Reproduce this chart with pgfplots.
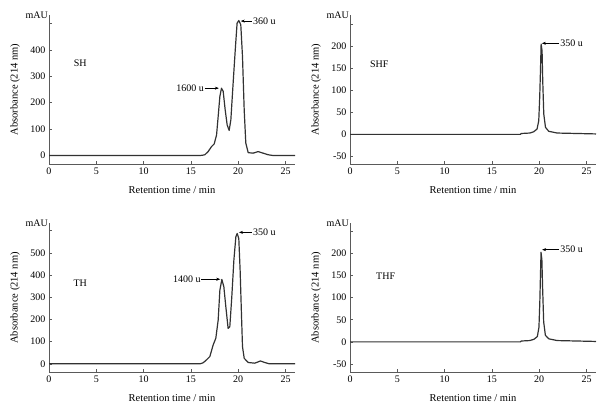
\documentclass[border=0pt]{standalone}
\usepackage{fontspec}
\setmainfont{Liberation Serif}
\usepackage{pgfplots}
\pgfplotsset{compat=1.18}
\usetikzlibrary{arrows.meta}

\definecolor{curve}{RGB}{50,50,50}
\definecolor{axisgray}{RGB}{90,90,90}

\tikzset{ann/.style={-{Stealth[length=4pt,width=3pt]}, draw=black, line width=0.5pt}}

\pgfplotsset{
  chrom/.style={
    scale only axis, width=246pt, height=149pt,
    axis lines=left,
    axis line style={-, draw=axisgray, line width=0.6pt},
    xmin=0, xmax=26, xtick={0,5,...,25},
    tick align=inside, major tick length=3pt,
    tick style={draw=axisgray, line width=0.5pt},
    tick label style={font=\fontsize{10}{11}\selectfont},
    label style={font=\fontsize{10.5}{12}\selectfont},
    xlabel={Retention time / min},
    ylabel={Absorbance (214 nm)},
    xlabel style={at={(axis description cs:0.5,-0.175)}, anchor=center},
    ylabel style={at={(axis description cs:-0.138,0.5)}, anchor=center},
    /pgf/number format/assume math mode=true,
    cycle list={{curve, no markers}},
    every axis plot/.append style={line width=1.2pt, line join=round},
    clip=false,
  },
}

\begin{document}
\begin{tikzpicture}[font=\fontsize{10}{11}\selectfont]
\useasboundingbox (0,0) rectangle (597pt,403pt);

% SH
\begin{axis}[chrom, at={(49pt,239pt)}, anchor=south west,
  ymin=-32, ymax=532, ytick={0,100,...,500}, yticklabels={0,100,200,300,400,}]
\addplot coordinates {(0,0) (15.9,0) (16.2,1) (16.47,3) (16.82,15) (17.18,34) (17.46,44)
  (17.71,78) (17.88,148) (18.06,224) (18.23,255) (18.41,243) (18.62,173) (18.83,116)
  (19.04,95) (19.22,135) (19.46,274) (19.71,413) (19.88,501) (20.06,511) (20.27,495)
  (20.45,375) (20.63,173) (20.8,47) (21.05,11) (21.57,9) (22.1,15) (22.63,9)
  (23.16,3) (23.7,0) (26,0)};
\node[anchor=east, inner sep=1pt] at (rel axis cs:0,1) {mAU};
\node[anchor=west, inner sep=0pt] at (axis cs:2.6,351) {SH};
\draw[ann] (axis cs:21.45,509) -- (axis cs:20.27,509);
\node[anchor=west, inner sep=0pt] at (axis cs:21.55,509) {360 u};
\draw[ann] (axis cs:16.45,255) -- (axis cs:17.95,255);
\node[anchor=east, inner sep=0pt] at (axis cs:16.4,255) {1600 u};
\end{axis}

% SHF
\begin{axis}[chrom, at={(350pt,239pt)}, anchor=south west,
  ymin=-67, ymax=270, ytick={-50,0,...,250}, yticklabels={-50,0,50,100,150,200,}]
\addplot coordinates {(0,0) (18.0,0) (18.1,2) (19.0,3) (19.42,6) (19.77,12) (19.95,31)
  (20.05,84) (20.13,144) (20.2,204) (20.3,189) (20.37,121) (20.48,46) (20.66,16)
  (21.0,7) (21.9,3) (24,2) (26,1)};
\node[anchor=east, inner sep=1pt] at (rel axis cs:0,1) {mAU};
\node[anchor=west, inner sep=0pt] at (axis cs:2.1,159) {SHF};
\draw[ann] (axis cs:22.1,206) -- (axis cs:20.28,206);
\node[anchor=west, inner sep=0pt] at (axis cs:22.2,206) {350 u};
\end{axis}

% TH
\begin{axis}[chrom, at={(49pt,30.5pt)}, anchor=south west,
  ymin=-39, ymax=632, ytick={0,100,...,600}, yticklabels={0,100,200,300,400,500,}]
\addplot coordinates {(0,0) (15.95,0) (16.3,5) (16.65,18) (17.0,33) (17.35,85) (17.63,115)
  (17.88,197) (18.06,332) (18.27,380) (18.48,347) (18.69,257) (18.93,160) (19.11,167)
  (19.32,302) (19.54,467) (19.75,572) (19.89,587) (20.06,564) (20.2,422) (20.35,212)
  (20.45,78) (20.63,25) (21.05,6) (21.75,3) (22.35,13) (22.8,6) (23.3,0) (26,0)};
\node[anchor=east, inner sep=1pt] at (rel axis cs:0,1) {mAU};
\node[anchor=west, inner sep=0pt] at (axis cs:2.57,362) {TH};
\draw[ann] (axis cs:21.45,592) -- (axis cs:20.08,592);
\node[anchor=west, inner sep=0pt] at (axis cs:21.55,592) {350 u};
\draw[ann] (axis cs:16.1,381) -- (axis cs:18.1,381);
\node[anchor=east, inner sep=0pt] at (axis cs:16.05,381) {1400 u};
\end{axis}

% THF
\begin{axis}[chrom, at={(350pt,30.5pt)}, anchor=south west,
  ymin=-69, ymax=267, ytick={-50,0,...,250}, yticklabels={-50,0,50,100,150,200,}]
\addplot coordinates {(0,0) (18.0,0) (18.1,2) (19.0,3) (19.45,6) (19.8,12) (19.97,33)
  (20.06,88) (20.13,150) (20.19,202) (20.28,185) (20.36,120) (20.47,45) (20.65,15)
  (21.0,7) (21.9,3) (24,2) (26,1)};
\node[anchor=east, inner sep=1pt] at (rel axis cs:0,1) {mAU};
\node[anchor=west, inner sep=0pt] at (axis cs:2.75,147) {THF};
\draw[ann] (axis cs:22.1,208) -- (axis cs:20.3,208);
\node[anchor=west, inner sep=0pt] at (axis cs:22.2,208) {350 u};
\end{axis}
\end{tikzpicture}
\end{document}
